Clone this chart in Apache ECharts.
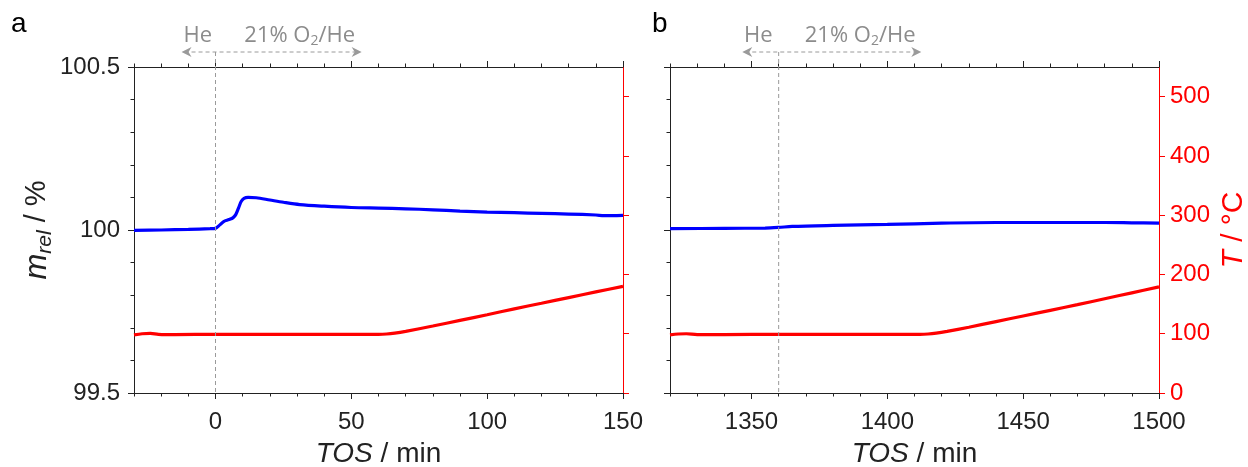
<!DOCTYPE html>
<html><head><meta charset="utf-8">
<script src="https://cdn.jsdelivr.net/npm/echarts@6/dist/echarts.min.js"></script>
<style>html,body{margin:0;padding:0;background:#fff}#c{width:1248px;height:467px}</style>
</head><body><div id="c"></div>
<script>
// ---------- data ----------
const tosMassA  = [-30, -20, -10, -2, 0, 1.5, 3, 5, 6.5, 7.5, 8.5, 9.5, 10.5, 12, 15, 20, 25, 31, 40, 50, 60, 70, 80, 90, 100, 110, 120, 130, 140, 143, 150];
const massA     = [99.999, 100.000, 100.002, 100.004, 100.005, 100.015, 100.026, 100.032, 100.038, 100.048, 100.068, 100.088, 100.097, 100.100, 100.099, 100.092, 100.085, 100.078, 100.073, 100.069, 100.067, 100.065, 100.062, 100.058, 100.055, 100.053, 100.051, 100.049, 100.046, 100.044, 100.045];
const tosTempA  = [-30, -27, -24, -21, -15, 0, 30, 60, 63, 66, 70, 80, 90, 100, 110, 120, 130, 140, 150];
const tempA     = [98, 100, 100.5, 99, 98.5, 99, 99, 99, 99.5, 101, 104, 113, 122.5, 132, 142, 151.5, 161, 170.5, 180];

const tosMassB  = [1320, 1340, 1355, 1360, 1365, 1380, 1400, 1420, 1440, 1460, 1480, 1490, 1500];
const massB     = [100.004, 100.005, 100.006, 100.008, 100.011, 100.014, 100.017, 100.021, 100.023, 100.023, 100.023, 100.022, 100.021];
const tosTempB  = [1320, 1323, 1326, 1330, 1340, 1360, 1400, 1412, 1415, 1418, 1422, 1430, 1440, 1450, 1460, 1470, 1480, 1490, 1500];
const tempB     = [98, 99.5, 100, 98.5, 98.5, 99, 99, 99, 99.5, 101, 104, 111, 120.5, 130, 139.5, 149, 159, 169, 179];

const xRangeA = [-30, 150];
const xRangeB = [1320, 1500];
const xLabelsA = [0, 50, 100, 150];
const xLabelsB = [1350, 1400, 1450, 1500];
const massRange = [99.5, 100.5];
const tempRange = [0, 550];
const tempTicks = [0, 100, 200, 300, 400, 500];

const gasSwitch = [0, 1360];
const arrowEnds = [[-12.5, 53.8], [1346.6, 1412.5]];
const heLabelX = [-6.5, 1352.5];
const o2LabelX = [31, 1390];
const panelLetters = ['a', 'b'];
const heText = 'He';
const o2Text = '21% O{sub|2}/He';

// ---------- chart ----------
const FONT = '"Liberation Sans", Arial, sans-serif';
const INK = '#222';
const RED = '#ff0000';
const BLUE = '#0000ff';
const chart = echarts.init(document.getElementById('c'), null, {renderer: 'canvas'});
const pair = (xs, ys) => xs.map((x, i) => [x, ys[i]]);
const plain = v => String(v);

const grids = [
  {left: 134, top: 67, width: 489, height: 326, outerBoundsMode: 'none', containLabel: false},
  {left: 670, top: 67, width: 489, height: 326, outerBoundsMode: 'none', containLabel: false}
];

function xAxes(gi, range, labels) {
  const base = {type: 'value', gridIndex: gi, min: range[0], max: range[1], splitLine: {show: false}};
  const line = {show: true, onZero: false, lineStyle: {color: INK, width: 1}};
  return [
    Object.assign({}, base, {position: 'bottom', interval: 10, axisLine: line,
      axisTick: {show: true, length: 3.5, lineStyle: {color: INK}}, axisLabel: {show: false}}),
    Object.assign({}, base, {position: 'bottom', axisLine: {show: false, onZero: false},
      axisTick: {show: true, length: 6, customValues: labels, lineStyle: {color: INK}},
      axisLabel: {show: true, customValues: labels, formatter: plain, fontSize: 24, color: INK, fontFamily: FONT, margin: 17},
      name: '{i|TOS} / min', nameLocation: 'middle', nameGap: 47,
      nameTextStyle: {fontSize: 28, color: INK, fontFamily: FONT, rich: {i: {fontSize: 28, fontStyle: 'italic', color: INK, fontFamily: FONT}}}}),
    Object.assign({}, base, {position: 'top', interval: 10, axisLine: line,
      axisTick: {show: true, length: 3.5, lineStyle: {color: INK}}, axisLabel: {show: false}}),
    Object.assign({}, base, {position: 'top', axisLine: {show: false, onZero: false},
      axisTick: {show: true, length: 6, customValues: labels, lineStyle: {color: INK}}, axisLabel: {show: false}})
  ];
}

function massAxis(gi, showLabels) {
  const ax = {type: 'value', gridIndex: gi, position: 'left', min: massRange[0], max: massRange[1], interval: 0.5,
    axisLine: {show: true, onZero: false, lineStyle: {color: INK, width: 1}},
    axisTick: {show: true, length: 6, lineStyle: {color: INK}},
    minorTick: {show: true, splitNumber: 5, length: 3.5, lineStyle: {color: INK}},
    axisLabel: {show: showLabels, fontSize: 24, color: INK, fontFamily: FONT, margin: 14},
    splitLine: {show: false}, minorSplitLine: {show: false}};
  if (showLabels) {
    Object.assign(ax, {name: '{i|m}{sub|rel} / %', nameLocation: 'middle', nameGap: 93, nameRotate: 90,
      nameTextStyle: {fontSize: 29, color: INK, fontFamily: FONT, lineHeight: 36, verticalAlign: 'middle',
        rich: {i: {fontSize: 31, fontStyle: 'italic', color: INK, fontFamily: FONT, lineHeight: 36, verticalAlign: 'middle'},
               sub: {fontSize: 21, fontStyle: 'italic', color: INK, fontFamily: FONT, lineHeight: 36, verticalAlign: 'bottom', padding: [0, 0, -1, 0]}}}});
  }
  return ax;
}

function tempAxis(gi, showLabels) {
  const ax = {type: 'value', gridIndex: gi, position: 'right', min: tempRange[0], max: tempRange[1],
    axisLine: {show: true, onZero: false, lineStyle: {color: RED, width: 1}},
    axisTick: {show: true, length: 6, customValues: tempTicks, lineStyle: {color: RED}},
    axisLabel: {show: showLabels, customValues: tempTicks, formatter: plain, fontSize: 24, color: RED, fontFamily: FONT, margin: 11},
    splitLine: {show: false}};
  if (showLabels) {
    Object.assign(ax, {name: '{i|T} / °C', nameLocation: 'middle', nameGap: 60, nameRotate: 90,
      nameTextStyle: {fontSize: 30, color: RED, fontFamily: FONT,
        rich: {i: {fontSize: 30, fontStyle: 'italic', color: RED, fontFamily: FONT}}}});
  }
  return ax;
}

const lineSeries = (name, xi, yi, data, color) => ({
  name, type: 'line', xAxisIndex: xi, yAxisIndex: yi, data, smooth: 0.3, showSymbol: false, symbol: 'none',
  lineStyle: {color, width: 3.2}, itemStyle: {color}, animation: false, z: 3
});

chart.setOption({
  animation: false,
  backgroundColor: '#fff',
  grid: grids,
  xAxis: [].concat(xAxes(0, xRangeA, xLabelsA), xAxes(1, xRangeB, xLabelsB)),
  yAxis: [massAxis(0, true), tempAxis(0, false), massAxis(1, false), tempAxis(1, true)],
  series: [
    lineSeries('mA', 0, 0, pair(tosMassA, massA), BLUE),
    lineSeries('TA', 0, 1, pair(tosTempA, tempA), RED),
    lineSeries('mB', 4, 2, pair(tosMassB, massB), BLUE),
    lineSeries('TB', 4, 3, pair(tosTempB, tempB), RED)
  ]
});

// ---------- annotations (positions derived from axis scales) ----------
const GRAY = '#8c8c8c';
const LINEGRAY = '#9a9a9a';
const ANNO_FONT = '"Open Sans", "DejaVu Sans", sans-serif';
const graphics = [];
[0, 1].forEach(p => {
  const xi = p * 4, yT = p * 2 + 1;
  const px = v => chart.convertToPixel({xAxisIndex: xi}, v);
  const top = chart.convertToPixel({yAxisIndex: yT}, tempRange[1]);
  const bottom = chart.convertToPixel({yAxisIndex: yT}, tempRange[0]);
  const ay = top - 15;
  const xs = px(gasSwitch[p]);
  const xl = px(arrowEnds[p][0]);
  const xr = px(arrowEnds[p][1]);
  graphics.push({type: 'line', silent: true, z: 10, shape: {x1: xs, y1: ay, x2: xs, y2: bottom},
    style: {stroke: LINEGRAY, lineWidth: 1, lineDash: [4, 3]}});
  graphics.push({type: 'line', silent: true, z: 10, shape: {x1: xl + 3, y1: ay, x2: xr - 3, y2: ay},
    style: {stroke: LINEGRAY, lineWidth: 1, lineDash: [4, 3]}});
  graphics.push({type: 'polygon', silent: true, z: 10, shape: {points: [[xl, ay], [xl + 10, ay - 5], [xl + 7, ay], [xl + 10, ay + 5]]},
    style: {fill: LINEGRAY}});
  graphics.push({type: 'polygon', silent: true, z: 10, shape: {points: [[xr, ay], [xr - 10, ay - 5], [xr - 7, ay], [xr - 10, ay + 5]]},
    style: {fill: LINEGRAY}});
  graphics.push({type: 'text', silent: true, z: 10, x: px(heLabelX[p]), y: 36,
    style: {text: heText, fill: GRAY, font: '22px ' + ANNO_FONT, align: 'center', verticalAlign: 'middle'}});
  graphics.push({type: 'text', silent: true, z: 10, x: px(o2LabelX[p]), y: 36,
    style: {text: o2Text, fill: GRAY, font: '22px ' + ANNO_FONT, align: 'center', verticalAlign: 'middle', lineHeight: 24,
      rich: {sub: {fontSize: 14, fill: GRAY, fontFamily: ANNO_FONT, verticalAlign: 'bottom', lineHeight: 24}}}});
});
graphics.push({type: 'text', silent: true, left: 11, top: 10, style: {text: panelLetters[0], fill: '#000', font: '28px ' + FONT}});
graphics.push({type: 'text', silent: true, left: 652, top: 10, style: {text: panelLetters[1], fill: '#000', font: '28px ' + FONT}});
chart.setOption({graphic: graphics});
</script>
</body></html>
